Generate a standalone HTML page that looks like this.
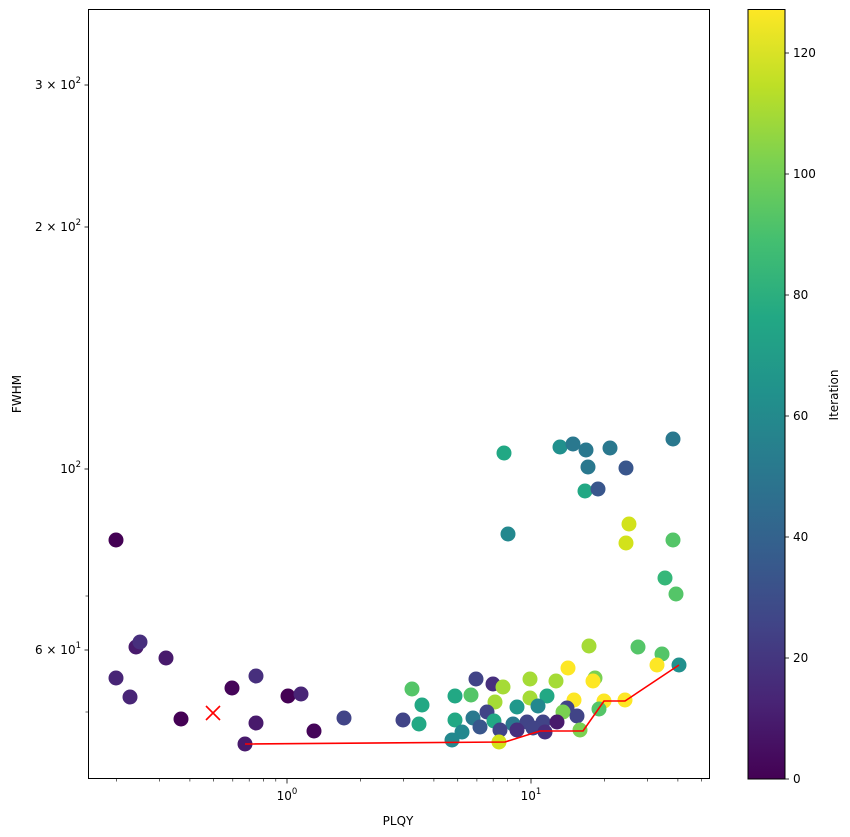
<!DOCTYPE html>
<html><head><meta charset="utf-8"><style>
html,body{margin:0;padding:0;background:#fff}
svg{display:block;font-family:"DejaVu Sans","Liberation Sans",sans-serif}
</style></head><body>
<svg width="850" height="837" viewBox="0 0 850 837" xmlns="http://www.w3.org/2000/svg">
<defs>
<linearGradient id="vir" x1="0" y1="1" x2="0" y2="0">
<stop offset="0" stop-color="#440154"/><stop offset="0.1" stop-color="#482475"/>
<stop offset="0.2" stop-color="#414487"/><stop offset="0.3" stop-color="#355f8d"/>
<stop offset="0.4" stop-color="#2a788e"/><stop offset="0.5" stop-color="#21918c"/>
<stop offset="0.6" stop-color="#22a884"/><stop offset="0.7" stop-color="#44bf70"/>
<stop offset="0.8" stop-color="#7ad151"/><stop offset="0.9" stop-color="#bddf26"/>
<stop offset="1" stop-color="#fde725"/>
</linearGradient>
</defs>
<rect width="850" height="837" fill="#fff"/>
<g>
<circle cx="116" cy="540" r="7.5" fill="#440154"/>
<circle cx="116" cy="678" r="7.5" fill="#482576"/>
<circle cx="130" cy="697" r="7.5" fill="#482576"/>
<circle cx="136" cy="647" r="7.5" fill="#481a6c"/>
<circle cx="140" cy="642" r="7.5" fill="#472f7d"/>
<circle cx="166" cy="658" r="7.5" fill="#481a6c"/>
<circle cx="181" cy="719" r="7.5" fill="#440154"/>
<circle cx="232" cy="688" r="7.5" fill="#450559"/>
<circle cx="256" cy="676" r="7.5" fill="#472f7d"/>
<circle cx="256" cy="723" r="7.5" fill="#481a6c"/>
<circle cx="245" cy="744" r="7.5" fill="#481a6c"/>
<circle cx="288" cy="696" r="7.5" fill="#440154"/>
<circle cx="301" cy="694" r="7.5" fill="#482576"/>
<circle cx="314" cy="731" r="7.5" fill="#450559"/>
<circle cx="344" cy="718" r="7.5" fill="#414487"/>

<circle cx="504" cy="453" r="7.5" fill="#22a884"/>
<circle cx="508" cy="534" r="7.5" fill="#23888e"/>
<circle cx="560" cy="447" r="7.5" fill="#21908d"/>
<circle cx="573" cy="444" r="7.5" fill="#2a788e"/>
<circle cx="586" cy="450" r="7.5" fill="#2a788e"/>
<circle cx="610" cy="448" r="7.5" fill="#2a788e"/>
<circle cx="588" cy="467" r="7.5" fill="#2a788e"/>
<circle cx="585" cy="491" r="7.5" fill="#22a884"/>
<circle cx="598" cy="489" r="7.5" fill="#39568c"/>
<circle cx="626" cy="468" r="7.5" fill="#39568c"/>
<circle cx="673" cy="439" r="7.5" fill="#2a788e"/>
<circle cx="629" cy="524" r="7.5" fill="#d2e21b"/>
<circle cx="626" cy="543" r="7.5" fill="#d2e21b"/>
<circle cx="673" cy="540" r="7.5" fill="#54c568"/>
<circle cx="665" cy="578" r="7.5" fill="#35b779"/>
<circle cx="676" cy="594" r="7.5" fill="#54c568"/>

<circle cx="589" cy="646" r="7.5" fill="#a5db36"/>
<circle cx="638" cy="647" r="7.5" fill="#54c568"/>
<circle cx="662" cy="654" r="7.5" fill="#54c568"/>
<circle cx="657" cy="665" r="7.5" fill="#fde725"/>
<circle cx="679" cy="665" r="7.5" fill="#21908d"/>
<circle cx="568" cy="668" r="7.5" fill="#fde725"/>
<circle cx="595" cy="678" r="7.5" fill="#7ad151"/>
<circle cx="593" cy="681" r="7.5" fill="#fde725"/>
<circle cx="476" cy="679" r="7.5" fill="#414487"/>
<circle cx="493" cy="684" r="7.5" fill="#472f7d"/>
<circle cx="503" cy="687" r="7.5" fill="#a5db36"/>
<circle cx="530" cy="679" r="7.5" fill="#a5db36"/>
<circle cx="556" cy="681" r="7.5" fill="#a5db36"/>
<circle cx="412" cy="689" r="7.5" fill="#54c568"/>
<circle cx="471" cy="695" r="7.5" fill="#54c568"/>
<circle cx="455" cy="696" r="7.5" fill="#22a884"/>
<circle cx="547" cy="696" r="7.5" fill="#22a884"/>
<circle cx="530" cy="698" r="7.5" fill="#a5db36"/>
<circle cx="495" cy="702" r="7.5" fill="#a5db36"/>
<circle cx="574" cy="700" r="7.5" fill="#fde725"/>
<circle cx="604" cy="701" r="7.5" fill="#fde725"/>
<circle cx="625" cy="700" r="7.5" fill="#fde725"/>
<circle cx="422" cy="705" r="7.5" fill="#22a884"/>
<circle cx="517" cy="707" r="7.5" fill="#1f988b"/>
<circle cx="538" cy="706" r="7.5" fill="#23888e"/>
<circle cx="567" cy="708" r="7.5" fill="#414487"/>
<circle cx="563" cy="712" r="7.5" fill="#7ad151"/>
<circle cx="599" cy="709" r="7.5" fill="#54c568"/>
<circle cx="487" cy="712" r="7.5" fill="#414487"/>
<circle cx="577" cy="716" r="7.5" fill="#414487"/>
<circle cx="403" cy="720" r="7.5" fill="#414487"/>
<circle cx="455" cy="720" r="7.5" fill="#22a884"/>
<circle cx="473" cy="718" r="7.5" fill="#2a788e"/>
<circle cx="494" cy="721" r="7.5" fill="#22a884"/>
<circle cx="419" cy="724" r="7.5" fill="#22a884"/>
<circle cx="513" cy="724" r="7.5" fill="#2a788e"/>
<circle cx="527" cy="722" r="7.5" fill="#414487"/>
<circle cx="543" cy="722" r="7.5" fill="#414487"/>
<circle cx="557" cy="722" r="7.5" fill="#481a6c"/>
<circle cx="480" cy="727" r="7.5" fill="#39568c"/>
<circle cx="462" cy="732" r="7.5" fill="#23888e"/>
<circle cx="500" cy="730" r="7.5" fill="#414487"/>
<circle cx="517" cy="730" r="7.5" fill="#472f7d"/>
<circle cx="533" cy="728" r="7.5" fill="#414487"/>
<circle cx="545" cy="732" r="7.5" fill="#472f7d"/>
<circle cx="580" cy="730" r="7.5" fill="#7ad151"/>
<circle cx="452" cy="740" r="7.5" fill="#23888e"/>
<circle cx="499" cy="742" r="7.5" fill="#d2e21b"/>
</g>
<polyline points="245,744 505,742 540,731 583,731 604,701 625,701 679,665" fill="none" stroke="#ff0000" stroke-width="1.6"/>
<path d="M206,706 L220,720 M220,706 L206,720" stroke="#ff0000" stroke-width="1.6"/>

<rect x="88.5" y="9.5" width="621" height="769" fill="none" stroke="#000" stroke-width="1"/>
<g stroke="#000" stroke-width="0.8">
<line x1="287" y1="779" x2="287" y2="783.5"/><line x1="531" y1="779" x2="531" y2="783.5"/>
<g stroke-width="0.6">
<line x1="116.4" y1="779" x2="116.4" y2="781.5"/><line x1="159.4" y1="779" x2="159.4" y2="781.5"/>
<line x1="189.9" y1="779" x2="189.9" y2="781.5"/><line x1="213.5" y1="779" x2="213.5" y2="781.5"/>
<line x1="232.8" y1="779" x2="232.8" y2="781.5"/><line x1="249.2" y1="779" x2="249.2" y2="781.5"/>
<line x1="263.4" y1="779" x2="263.4" y2="781.5"/><line x1="275.8" y1="779" x2="275.8" y2="781.5"/>
<line x1="360.4" y1="779" x2="360.4" y2="781.5"/><line x1="403.4" y1="779" x2="403.4" y2="781.5"/>
<line x1="433.9" y1="779" x2="433.9" y2="781.5"/><line x1="457.5" y1="779" x2="457.5" y2="781.5"/>
<line x1="476.9" y1="779" x2="476.9" y2="781.5"/><line x1="493.2" y1="779" x2="493.2" y2="781.5"/>
<line x1="507.4" y1="779" x2="507.4" y2="781.5"/><line x1="519.8" y1="779" x2="519.8" y2="781.5"/>
<line x1="604.4" y1="779" x2="604.4" y2="781.5"/><line x1="647.4" y1="779" x2="647.4" y2="781.5"/>
<line x1="677.9" y1="779" x2="677.9" y2="781.5"/><line x1="701.5" y1="779" x2="701.5" y2="781.5"/>
<line x1="85.5" y1="712" x2="88" y2="712"/><line x1="85.5" y1="596" x2="88" y2="596"/>
</g>
<line x1="84.5" y1="85" x2="88" y2="85"/><line x1="84.5" y1="227" x2="88" y2="227"/>
<line x1="84.5" y1="469" x2="88" y2="469"/><line x1="84.5" y1="650" x2="88" y2="650"/>
</g>
<g font-size="12" fill="#000">
<text x="287" y="800" text-anchor="middle">10<tspan font-size="8.5" dy="-6">0</tspan></text>
<text x="531" y="800" text-anchor="middle">10<tspan font-size="8.5" dy="-6">1</tspan></text>
<text x="81" y="89" text-anchor="end">3 × 10<tspan font-size="8.5" dy="-6">2</tspan></text>
<text x="81" y="231" text-anchor="end">2 × 10<tspan font-size="8.5" dy="-6">2</tspan></text>
<text x="81" y="473" text-anchor="end">10<tspan font-size="8.5" dy="-6">2</tspan></text>
<text x="81" y="654" text-anchor="end">6 × 10<tspan font-size="8.5" dy="-6">1</tspan></text>
<text x="398" y="825" text-anchor="middle">PLQY</text>
<text transform="translate(21,394) rotate(-90)" text-anchor="middle">FWHM</text>
</g>

<rect x="748" y="9.5" width="37" height="769.5" fill="url(#vir)" stroke="#000" stroke-width="1"/>
<g stroke="#000" stroke-width="0.8">
<line x1="785" y1="779" x2="789" y2="779"/><line x1="785" y1="658" x2="789" y2="658"/>
<line x1="785" y1="537" x2="789" y2="537"/><line x1="785" y1="416" x2="789" y2="416"/>
<line x1="785" y1="295" x2="789" y2="295"/><line x1="785" y1="174" x2="789" y2="174"/>
<line x1="785" y1="53" x2="789" y2="53"/>
</g>
<g font-size="12" fill="#000">
<text x="793" y="783">0</text><text x="793" y="662">20</text><text x="793" y="541">40</text>
<text x="793" y="420">60</text><text x="793" y="299">80</text><text x="793" y="178">100</text>
<text x="793" y="57">120</text>
<text transform="translate(838,395) rotate(-90)" text-anchor="middle">Iteration</text>
</g>
</svg>
</body></html>
